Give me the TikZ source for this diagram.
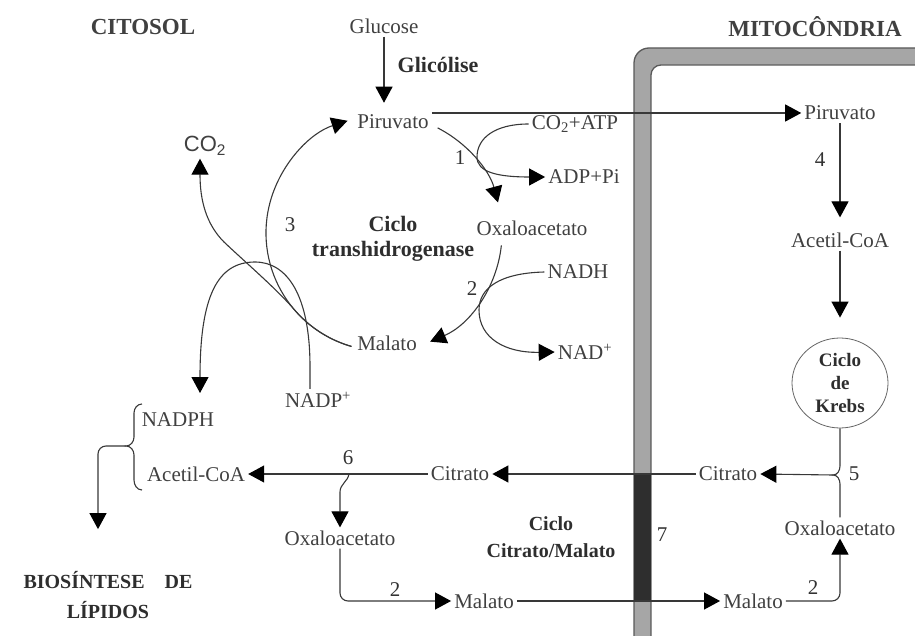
\documentclass[tikz,border=0pt]{standalone}
\usepackage{fontspec}
\setmainfont{Liberation Serif}
\newfontfamily\arialfont{Liberation Sans}
\usetikzlibrary{arrows.meta,shapes.geometric}
\tikzset{every picture/.append style={x=1pt,y=1pt}}
\tikzset{
    txt/.style={font=\fontsize{21}{24}\selectfont, text=black!75, inner sep=3pt},
    bold/.style={font=\bfseries\fontsize{22}{25}\selectfont, text=black!82,
    	align=center, inner sep=2pt},
    head/.style={font=\bfseries\fontsize{23}{26}\selectfont, text=black!75},
    num/.style={font=\fontsize{21}{24}\selectfont, text=black!80, inner sep=1pt},
    krebs/.style={ellipse, draw=black!60, line width=.8pt, minimum width=96pt,
    	minimum height=90pt, inner sep=0pt, align=center, text=black!82,
    	font=\bfseries\fontsize{19}{23}\selectfont},
    ln/.style={draw=black!78, line width=1.1pt},
    flow/.style={ln, -{Triangle[length=16pt,width=17pt,black]}},
    membrane/.style={fill=black!35, draw=black!65, line width=1.3pt}
}

\begin{document}
\begin{tikzpicture}
	\useasboundingbox (0,0) rectangle (915,-636);
	\clip (0,0) rectangle (915,-636);
	\filldraw[membrane] (634,-660) [rounded corners=15pt] -- (634,-48) -- (940,-48)
		-- (940,-660) -- cycle;
	\filldraw[membrane, fill=white] (651,-660) [rounded corners=10pt] -- (651,-65)
		-- (940,-65) -- (940,-660) -- cycle;
	\fill[black!82] (634,-475) rectangle (651,-602);

	\node[head] (citosol) at (143,-27) {CITOSOL};
	\node[head] (mitocondria) at (815,-27) {MITOCÔNDRIA};
	\node[txt] (glucose) at (384,-26) {Glucose};
	\node[bold] (glicolise) at (438,-65) {Glicólise};
	\node[txt] (piruvatoC) at (393,-122) {Piruvato};
	\node[txt, font=\arialfont\fontsize{22}{24}\selectfont] (co2) at (205,-146) {CO\textsubscript{2}};
	\node[num] (n3) at (290,-225) {3};
	\node[bold] (cicloT) at (393,-239) {Ciclo\\transhidrogenase};
	\node[num] (n1) at (460,-158) {1};
	\node[txt] (co2atp) at (575,-124) {CO\textsubscript{2}+ATP};
	\node[txt] (adppi) at (584,-177) {ADP+Pi};
	\node[txt] (oxaloC) at (532,-228) {Oxaloacetato};
	\node[txt] (nadh) at (578,-272) {NADH};
	\node[num] (n2a) at (472,-289) {2};
	\node[txt] (malatoC) at (387,-343) {Malato};
	\node[txt] (nad) at (585,-352) {NAD\textsuperscript{+}};
	\node[txt] (nadp) at (318,-400) {NADP\textsuperscript{+}};
	\node[txt] (nadph) at (178,-420) {NADPH};
	\node[txt] (acetilC) at (196,-474) {Acetil-CoA};
	\node[num] (n6) at (348,-458) {6};
	\node[txt] (citratoC) at (460,-474) {Citrato};
	\node[txt] (oxaloL) at (340,-538) {Oxaloacetato};
	\node[bold, font=\bfseries\fontsize{20}{27}\selectfont] (cicloCM) at (551,-537) {Ciclo\\Citrato/Malato};
	\node[num] (n7) at (662,-535) {7};
	\node[num] (n2b) at (395,-590) {2};
	\node[txt] (malatoL) at (484,-601) {Malato};
	\node[bold, font=\bfseries\fontsize{20}{30}\selectfont] (lipidos) at (108,-595) {BIOSÍNTESE\quad DE\\LÍPIDOS};
	\node[txt] (piruvatoM) at (840,-113) {Piruvato};
	\node[num] (n4) at (820,-160) {4};
	\node[txt] (acetilM) at (840,-240) {Acetil-CoA};
	\node[krebs] (krebs) at (840,-383) {Ciclo\\de\\Krebs};
	\node[txt] (citratoM) at (728,-474) {Citrato};
	\node[num] (n5) at (854,-474) {5};
	\node[txt] (oxaloM) at (840,-528) {Oxaloacetato};
	\node[num] (n2c) at (813,-588) {2};
	\node[txt] (malatoM) at (753,-601) {Malato};

	\coordinate (cc) at (384,-233);
	\coordinate (nadphin) at (200,-393);
	\coordinate (brace) at (126,-446);
	\coordinate (s6) at (349,-474);

	\draw[flow] (glucose.south) -- ([yshift=9pt]glucose.south |- piruvatoC.north);
	\draw[flow] (piruvatoC.east |- piruvatoM.west) -- (piruvatoM.west);
	\draw[flow] (cc) ++(63:118) arc[start angle=63, end angle=15, radius=118];
	\draw[flow] (cc) ++(-6:118) arc[start angle=-6, end angle=-67, radius=118];
	\draw[flow] (cc) ++(254:118) coordinate (mal3) arc[start angle=254, end angle=108, radius=118];
	\draw[flow] (co2atp.west) .. controls (495,-124) and (477,-138) .. (477,-157)
		.. controls (477,-172) and (497,-177) .. (adppi.west);
	\draw[flow] (nadh.west) .. controls (500,-273) and (479,-288) .. (479,-310)
		.. controls (479,-338) and (505,-353) .. (nad.west);
	\draw[flow] (mal3) arc[start angle=254, end angle=222, radius=118]
		.. controls (278,-290) and (245,-262) .. (224,-242)
		.. controls (206,-224) and (200,-200) .. (co2.south -| 200,0);
	\draw[flow] ([xshift=-8pt]nadp.north) -- ++(0,22) .. controls (310,-295) and (287,-262) .. (255,-262)
		.. controls (218,-262) and (200,-295) .. (nadphin);
	\draw[ln] (142,-404) to[out=180,in=90] (134,-413) -- (134,-437) to[out=-90,in=0] (brace)
		to[out=0,in=90] (134,-455) -- (134,-480) to[out=-90,in=180] (142,-490);
	\draw[flow, rounded corners=8pt, shorten >=40pt] (brace) -| ([xshift=-10pt]lipidos.north);
	\draw[flow, shorten >=12pt] (piruvatoM.south) -- (acetilM.north);
	\draw[flow, shorten >=20pt] (acetilM.south) -- (krebs.north);
	\draw[ln] (krebs.south) -- (840,-466) to[out=-90,in=0] (833,-475) coordinate (b5)
		to[out=0,in=90] (840,-484) -- (oxaloM.north);
	\draw[flow] (b5) -- (citratoM.east);
	\draw[flow] (citratoM.west) -- (citratoC.east);
	\draw[flow] (citratoC.west) -- (acetilC.east);
	\draw[flow] (s6) to[out=-100,in=90] (340,-492) -- (oxaloL.north);
	\draw[flow, rounded corners=8pt] (oxaloL.south) |- (malatoL.west);
	\draw[flow] (malatoL.east) -- (malatoM.west);
	\draw[flow, rounded corners=8pt] (malatoM.east) -| (oxaloM.south);
\end{tikzpicture}
\end{document}
